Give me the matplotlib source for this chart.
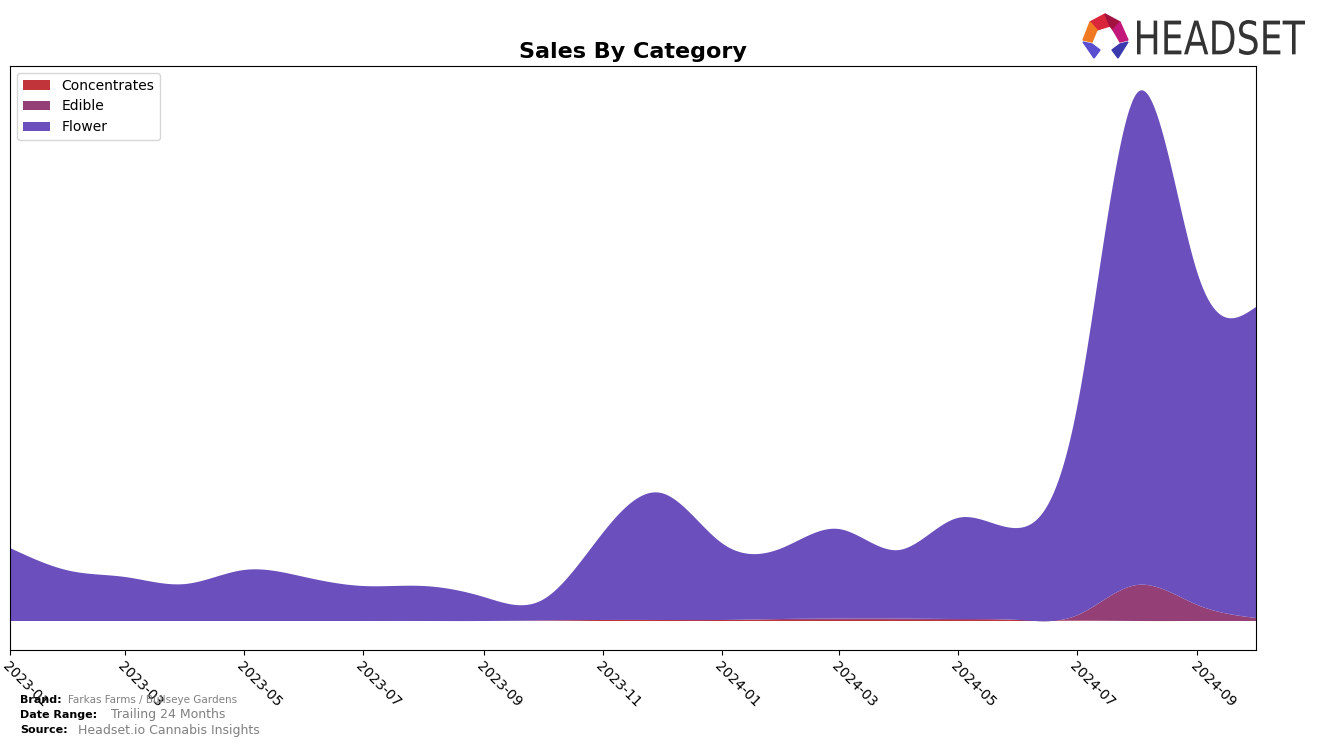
import numpy as np
import pandas as pd
import matplotlib
matplotlib.use("Agg")
import matplotlib.pyplot as plt
import matplotlib.dates as mdates
from matplotlib.patches import Polygon, PathPatch
from matplotlib.textpath import TextPath
from matplotlib.font_manager import FontProperties
from matplotlib.transforms import Affine2D

# monthly sales (arbitrary units)
months = pd.date_range("2023-01-01", "2024-10-01", freq="MS")
concentrates = [0, 0, 0, 0, 0, 0, 0, 0, 0, 0.5, 1, 1, 1, 1, 1, 1, 1, 1, 0.5, 0, 0, 0]
edible = [0, 0, 0, 0, 0, 0, 0, 0, 0, 0, 0, 0, 0, 1, 1.5, 1.5, 1, 0, 5, 36, 16, 3]
total = [73, 50, 44, 37, 51, 44, 35, 35, 24, 21, 88, 128, 78, 73, 92, 71, 103, 93, 211, 528, 348, 314]
flower = [t - c - e for t, c, e in zip(total, concentrates, edible)]

categories = ["Concentrates", "Edible", "Flower"]
colors = ["#C0343A", "#944076", "#6A4FBD"]


def natural_spline(x, y, xs):
    x = np.asarray(x, float)
    y = np.asarray(y, float)
    n = len(x)
    h = np.diff(x)
    A = np.zeros((n, n))
    b = np.zeros(n)
    A[0, 0] = A[-1, -1] = 1
    for i in range(1, n - 1):
        A[i, i - 1] = h[i - 1]
        A[i, i] = 2 * (h[i - 1] + h[i])
        A[i, i + 1] = h[i]
        b[i] = 3 * ((y[i + 1] - y[i]) / h[i] - (y[i] - y[i - 1]) / h[i - 1])
    c = np.linalg.solve(A, b)
    idx = np.clip(np.searchsorted(x, xs) - 1, 0, n - 2)
    dx = xs - x[idx]
    hi = h[idx]
    bb = (y[idx + 1] - y[idx]) / hi - hi * (2 * c[idx] + c[idx + 1]) / 3
    dd = (c[idx + 1] - c[idx]) / (3 * hi)
    return y[idx] + bb * dx + c[idx] * dx ** 2 + dd * dx ** 3


xnum = mdates.date2num(months)
xs = np.linspace(xnum[0], xnum[-1], 800)
series = [natural_spline(xnum, s, xs) for s in (concentrates, edible, flower)]

fig = plt.figure(figsize=(13.2, 7.46), dpi=100)
ax = fig.add_axes([0.0076, 0.1287, 0.9439, 0.7828])

ax.stackplot(mdates.num2date(xs), *series, labels=categories, colors=colors)

ax.set_xlim(months[0], months[-1])
ax.set_ylim(-29, 555)
ax.set_yticks([])
ax.xaxis.set_major_locator(mdates.MonthLocator(bymonth=[1, 3, 5, 7, 9, 11]))
ax.xaxis.set_major_formatter(mdates.DateFormatter("%Y-%m"))
plt.setp(ax.get_xticklabels(), rotation=-45, ha="left", rotation_mode="anchor", fontsize=10)

ax.set_title("Sales By Category", fontsize=16, fontweight="bold")
ax.legend(loc="upper left", fontsize=10)

# footer
fig.text(0.015, 0.0617, "Brand:", fontsize=8, fontweight="bold", va="center")
fig.text(0.0515, 0.0617, "Farkas Farms / Bullseye Gardens", fontsize=7.5, color="gray", va="center")
fig.text(0.015, 0.0416, "Date Range:", fontsize=8, fontweight="bold", va="center")
fig.text(0.084, 0.0416, "Trailing 24 Months", fontsize=9, color="gray", va="center")
fig.text(0.015, 0.0214, "Source:", fontsize=8, fontweight="bold", va="center")
fig.text(0.059, 0.0214, "Headset.io Cannabis Insights", fontsize=9, color="gray", va="center")

# logo
W, H = 1320, 746
def P(pts, color):
    fig.patches.append(Polygon([(x / W, 1 - y / H) for x, y in pts], closed=True,
                               transform=fig.transFigure, color=color, zorder=5))

P([(1090, 22), (1105, 14), (1110, 26), (1097, 30)], "#D9263A")
P([(1105, 14), (1120, 22), (1113, 30), (1110, 26)], "#A3123F")
P([(1120, 22), (1128, 40), (1120, 42), (1113, 30)], "#C2187A")
P([(1090, 22), (1097, 30), (1092, 42), (1083, 40)], "#F07A22")
P([(1083, 42), (1092, 44), (1100, 50), (1094, 58)], "#5A4FD0")
P([(1128, 42), (1120, 44), (1112, 50), (1118, 58)], "#3A3AAE")

# logo word, squeezed into its box (pixels 1137..1305 x 20..55)
tp = TextPath((0, 0), "HEADSET", size=40, prop=FontProperties(family="DejaVu Sans"))
ext = tp.get_extents()
x0, x1, ytop, ybot = 1137, 1305, 20, 55
sx = (x1 - x0) / ext.width / W
sy = (ybot - ytop) / ext.height / H
tr = Affine2D().translate(-ext.x0, -ext.y0).scale(sx, sy).translate(x0 / W, 1 - ybot / H)
fig.patches.append(PathPatch(tr.transform_path(tp), transform=fig.transFigure,
                             color="#333333", lw=0, zorder=5))

fig.savefig("out.png", dpi=100)
